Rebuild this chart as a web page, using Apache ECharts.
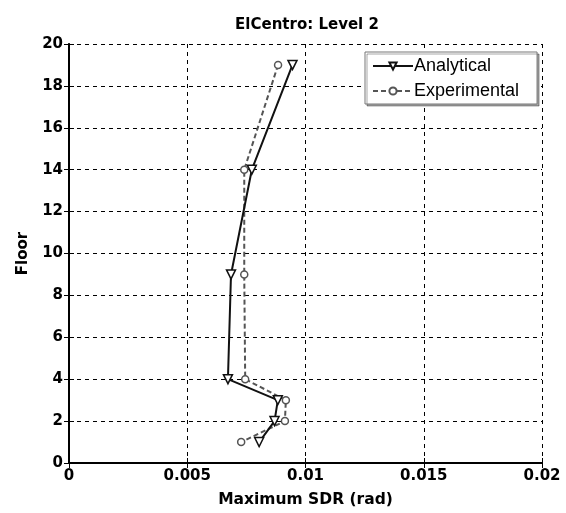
<!DOCTYPE html>
<html>
<head>
<meta charset="utf-8">
<script src="https://cdn.jsdelivr.net/npm/echarts@6/dist/echarts.min.js"></script>
<style>
  html, body { margin: 0; padding: 0; background: #fff; }
  #chart { width: 566px; height: 513px; }
</style>
</head>
<body>
<div id="chart"></div>
<script>
// floors where the drift was recorded
const floors = [19, 14, 9, 4, 3, 2, 1];
// max storey drift ratio (rad)
const analytical = [0.00945, 0.00773, 0.00685, 0.00672, 0.00883, 0.00869, 0.00804];
const experimental = [0.00884, 0.00741, 0.00741, 0.00745, 0.00917, 0.00913, 0.00728];

const xTicks = [0, 0.005, 0.01, 0.015, 0.02];

const pairs = (xs) => xs.map((v, i) => [v, floors[i]]);

const bold = 'DejaVu Sans';
const boldLabel = { color: '#000', fontFamily: bold, fontWeight: 'bold', fontSize: 15 };

const chart = echarts.init(document.getElementById('chart'), null, { renderer: 'canvas' });

chart.setOption({
    backgroundColor: '#fff',
    animation: false,
    title: {
        text: 'ElCentro: Level 2',
        left: 302,
        textAlign: 'center',
        top: 13,
        textStyle: { color: '#000', fontFamily: bold, fontWeight: 'bold', fontSize: 15 }
    },
    legend: {
        orient: 'vertical',
        left: 365,
        top: 52,
        padding: [5, 18, 4, 7],
        itemGap: 7,
        itemWidth: 40,
        itemHeight: 9,
        backgroundColor: '#fff',
        borderColor: '#777',
        borderWidth: 1,
        shadowColor: 'rgba(0,0,0,0.35)',
        shadowOffsetX: 2,
        shadowOffsetY: 2,
        textStyle: { color: '#000', fontFamily: 'Liberation Sans', fontSize: 18, padding: [0, 0, 0, -4] },
        data: ['Analytical', 'Experimental']
    },
    grid: { left: 69, right: 24, top: 44, bottom: 46 },
    xAxis: [{
        type: 'value',
        min: 0,
        max: 0.02,
        interval: 0.005,
        name: 'Maximum SDR (rad)',
        nameLocation: 'middle',
        nameGap: 29,
        nameTextStyle: { color: '#000', fontFamily: bold, fontWeight: 'bold', fontSize: 15.5 },
        axisLine: { lineStyle: { color: '#000', width: 2 } },
        axisTick: { inside: true, length: 5, lineStyle: { color: '#000' } },
        axisLabel: Object.assign({ margin: 6, formatter: (v) => String(xTicks.find((t) => Math.abs(t - v) < 1e-9) ?? v) }, boldLabel),
        splitLine: { show: true, lineStyle: { color: '#000', type: [4, 4], width: 1 } }
    }, {
        type: 'value',
        position: 'top',
        min: 0,
        max: 0.02,
        interval: 0.005,
        axisLine: { show: true, lineStyle: { color: '#000', width: 2, type: [2, 2] } },
        axisTick: { inside: true, length: 5, lineStyle: { color: '#000' } },
        axisLabel: { show: false },
        splitLine: { show: false }
    }],
    yAxis: [{
        type: 'value',
        min: 0,
        max: 20,
        interval: 2,
        name: 'Floor',
        nameLocation: 'middle',
        nameGap: 38,
        nameTextStyle: { color: '#000', fontFamily: bold, fontWeight: 'bold', fontSize: 15 },
        axisLine: { show: true, lineStyle: { color: '#000', width: 2 } },
        axisTick: { show: true, inside: true, length: 5, lineStyle: { color: '#000' } },
        axisLabel: Object.assign({ margin: 6 }, boldLabel),
        splitLine: { show: true, lineStyle: { color: '#000', type: [4, 4], width: 1 } }
    }, {
        type: 'value',
        position: 'right',
        min: 0,
        max: 20,
        interval: 2,
        axisLine: { show: true, lineStyle: { color: '#000', width: 1.5 } },
        axisTick: { show: true, inside: true, length: 5, lineStyle: { color: '#000' } },
        axisLabel: { show: false },
        splitLine: { show: false }
    }],
    series: [{
        name: 'Analytical',
        type: 'line',
        data: pairs(analytical),
        symbol: 'triangle',
        symbolRotate: 180,
        symbolSize: 9,
        showAllSymbol: true,
        lineStyle: { color: '#111', width: 2 },
        itemStyle: { color: '#fff', borderColor: '#111', borderWidth: 1.5 },
        z: 3
    }, {
        name: 'Experimental',
        type: 'line',
        data: pairs(experimental),
        symbol: 'circle',
        symbolSize: 7,
        showAllSymbol: true,
        lineStyle: { color: '#555', width: 2, type: [5, 3] },
        itemStyle: { color: '#fff', borderColor: '#555', borderWidth: 1.5 },
        z: 2
    }]
});
</script>
</body>
</html>
